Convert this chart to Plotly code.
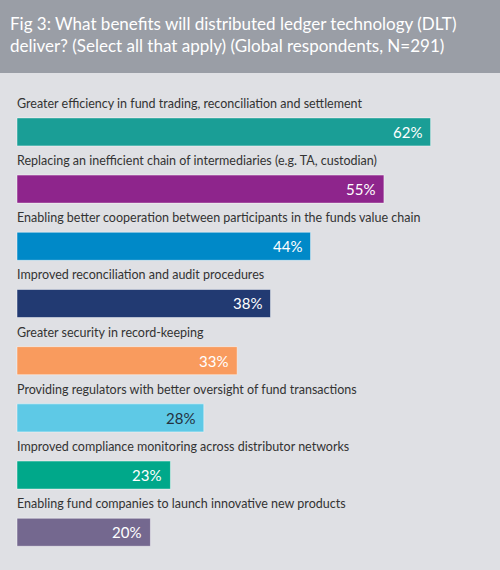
import plotly.graph_objects as go

# Data
benefits = [
    "Greater efficiency in fund trading, reconciliation and settlement",
    "Replacing an inefficient chain of intermediaries (e.g. TA, custodian)",
    "Enabling better cooperation between participants in the funds value chain",
    "Improved reconciliation and audit procedures",
    "Greater security in record-keeping",
    "Providing regulators with better oversight of fund transactions",
    "Improved compliance monitoring across distributor networks",
    "Enabling fund companies to launch innovative new products",
]
shares = [62, 55, 44, 38, 33, 28, 23, 20]

# Styles
bar_colors = ["#1a9e96", "#8e258c", "#0089c8", "#223a72",
              "#f99b5e", "#5ec9e6", "#00a88a", "#74688f"]
value_colors = ["white", "white", "white", "white",
                "white", "#24323f", "white", "white"]
font_name = "Lato, sans-serif"

fig = go.Figure()
fig.add_trace(go.Bar(
    x=shares, y=benefits, orientation="h",
    width=0.49,
    marker=dict(color=bar_colors, line=dict(color="rgba(255,255,255,0.45)", width=1)),
    hoverinfo="skip",
))

annotations = []
# category labels above each bar
for b in benefits:
    annotations.append(dict(
        x=0, y=b, xref="x", yref="y", text=b, showarrow=False,
        xanchor="left", yanchor="middle", yshift=28.5, xshift=-2,
        font=dict(family=font_name, size=12.5, color="#333333"),
    ))
# value labels inside the bar ends
for b, v, c in zip(benefits, shares, value_colors):
    annotations.append(dict(
        x=v, y=b, xref="x", yref="y", text=f"{v}%", showarrow=False,
        xanchor="right", yanchor="middle", xshift=-7,
        font=dict(family=font_name, size=15, color=c),
    ))
# title in the grey header
annotations.append(dict(
    x=0.016, y=1 + 39 / 497, xref="paper", yref="paper",
    text="Fig 3: What benefits will distributed ledger technology (DLT)<br>"
         "deliver? (Select all that apply) (Global respondents, N=291)",
    showarrow=False, xanchor="left", yanchor="middle", align="left",
    font=dict(family=font_name, size=17, color="white"),
))

fig.update_layout(
    width=500, height=570,
    margin=dict(l=0, r=0, t=73, b=0),
    paper_bgcolor="#dfe0e4", plot_bgcolor="rgba(0,0,0,0)",
    showlegend=False,
    annotations=annotations,
    shapes=[dict(type="rect", xref="paper", yref="paper",
                 x0=0, x1=1, y0=1, y1=1 + 73 / 497,
                 fillcolor="#9a9ea6", line=dict(width=0), layer="below")],
    xaxis=dict(range=[-2.55, 72.4], visible=False, fixedrange=True),
    yaxis=dict(range=[7.66, -1.03], visible=False, fixedrange=True),
)

# page body has a default 8px margin, drop it so the figure fills the window
fig.write_html("out.html", config={"displayModeBar": False},
               post_script="document.body.style.margin='0';")
